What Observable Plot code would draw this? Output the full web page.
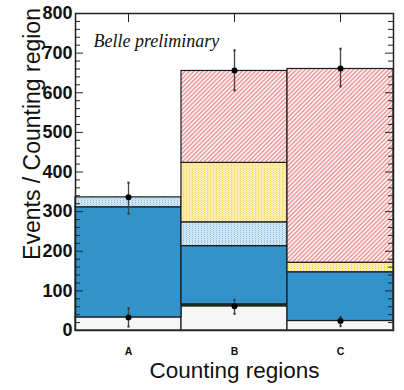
<!DOCTYPE html>
<html>
<head>
<meta charset="utf-8">
<script src="https://cdn.jsdelivr.net/npm/d3@7"></script>
<script src="https://cdn.jsdelivr.net/npm/@observablehq/plot@0.6"></script>
<style>
  html, body { margin: 0; padding: 0; background: #fff; }
  #chart { width: 404px; height: 390px; }
</style>
</head>
<body>
<div id="chart"></div>
<script>
// ---- Data ----
const regions = ["A", "B", "C"];
// background components, stacked bottom to top
const bkgOther     = [33, 61, 24];
const bkgGreen     = [0, 5, 0];
const bkgBlue      = [278, 147, 123];
const bkgLightBlue = [25, 60, 0];
const bkgYellow    = [0, 150, 24];
const bkgRed       = [0, 232, 489];
// observed events (upper points) with error bar ends
const obsValue = [336, 656, 661];
const obsLow   = [295, 606, 616];
const obsHigh  = [373, 707, 711];
// lower points
const lowValue = [33, 61, 24];
const lowLow   = [10, 42, 11];
const lowHigh  = [56, 77, 34];
const yTicksMajor = [0, 100, 200, 300, 400, 500, 600, 700, 800];

const W = 404, H = 390, mL = 75, mR = 11, mT = 13, mB = 60;
const frameW = W - mL - mR, frameH = H - mT - mB;

const layers = [
  {name: "other", values: bkgOther, fill: "#f6f6f6"},
  {name: "green", values: bkgGreen, fill: "#1f5a1f"},
  {name: "blue", values: bkgBlue, fill: "#3193c9"},
  {name: "lightblue", values: bkgLightBlue, fill: "url(#patBlue)"},
  {name: "yellow", values: bkgYellow, fill: "url(#patYellow)"},
  {name: "red", values: bkgRed, fill: "url(#patRed)"}
];

const rows = [];
regions.forEach((r, i) => {
  let cum = 0;
  layers.forEach(L => {
    const v = L.values[i];
    if (v > 0) rows.push({region: r, layer: L.name, y1: cum, y2: cum + v});
    cum += v;
  });
});

const obsRows = regions.map((r, i) => ({region: r, v: obsValue[i], lo: obsLow[i], hi: obsHigh[i]}));
const lowRows = regions.map((r, i) => ({region: r, v: lowValue[i], lo: lowLow[i], hi: lowHigh[i]}));
const minorTicks = d3.range(0, 801, 20).filter(d => d % 100 !== 0);

const pointMarks = (data) => [
  Plot.ruleX(data, {x: "region", y1: "lo", y2: "hi", stroke: "#444", strokeWidth: 1.3}),
  Plot.dot(data, {x: "region", y: "lo", r: 1.2, symbol: "square", fill: "#333", stroke: "none"}),
  Plot.dot(data, {x: "region", y: "hi", r: 1.2, symbol: "square", fill: "#333", stroke: "none"}),
  Plot.dot(data, {x: "region", y: "v", r: 3, fill: "#000", stroke: "none"})
];

const svg = Plot.plot({
  width: W, height: H,
  marginLeft: mL, marginRight: mR, marginTop: mT, marginBottom: mB,
  style: {fontFamily: "'Liberation Sans', Arial, Helvetica, sans-serif", background: "#fff", color: "#111"},
  x: {type: "band", domain: regions, padding: 0, axis: null},
  y: {domain: [0, 800], axis: null},
  marks: [
    ...layers.map(L => Plot.barY(rows.filter(d => d.layer === L.name), {
      x: "region", y1: "y1", y2: "y2", fill: L.fill, stroke: "#1c1c1c", strokeWidth: 1.2
    })),
    Plot.frame({stroke: "#222", strokeWidth: 1.5}),
    // inward ticks
    Plot.tickY(yTicksMajor, {y: d => d, insetRight: frameW - 8, stroke: "#222"}),
    Plot.tickY(minorTicks, {y: d => d, insetRight: frameW - 5, stroke: "#222"}),
    Plot.tickY(yTicksMajor, {y: d => d, insetLeft: frameW - 8, stroke: "#222"}),
    Plot.tickY(minorTicks, {y: d => d, insetLeft: frameW - 5, stroke: "#222"}),
    Plot.tickX(regions, {x: d => d, insetBottom: frameH - 9, stroke: "#222"}),
    ...pointMarks(obsRows),
    ...pointMarks(lowRows),
    Plot.axisY(yTicksMajor, {tickSize: 0, tickPadding: 3, fontSize: 18, fontWeight: "bold", label: null}),
    Plot.axisX({tickSize: 0, tickPadding: 17, fontSize: 10.5, fontWeight: "bold", label: null}),
    Plot.text(["Events / Counting region"], {
      frameAnchor: "left", dx: -43, dy: -38, rotate: -90, fontSize: 23, lineAnchor: "middle", textAnchor: "middle", fill: "#111"
    }),
    Plot.text(["Counting regions"], {
      frameAnchor: "bottom", dy: 40, fontSize: 22.5, lineAnchor: "middle", textAnchor: "middle", fill: "#111"
    }),
    Plot.text(["Belle preliminary"], {
      frameAnchor: "top-left", dx: 18, dy: 28, fontSize: 18, lineAnchor: "middle", textAnchor: "start",
      fontFamily: "'Liberation Serif', 'Times New Roman', serif", fontStyle: "italic", fill: "#111"
    })
  ]
});

// patterns
const defs = d3.select(svg).insert("defs", ":first-child");
const pr = defs.append("pattern").attr("id", "patRed").attr("patternUnits", "userSpaceOnUse")
  .attr("width", 3.1).attr("height", 3.1).attr("patternTransform", "rotate(45)");
pr.append("rect").attr("width", 3.1).attr("height", 3.1).attr("fill", "#fdf3f3");
pr.append("line").attr("x1", 1.55).attr("y1", 0).attr("x2", 1.55).attr("y2", 3.1)
  .attr("stroke", "#e67c7c").attr("stroke-width", 1.1);

const py = defs.append("pattern").attr("id", "patYellow").attr("patternUnits", "userSpaceOnUse")
  .attr("width", 3).attr("height", 2);
py.append("rect").attr("width", 3).attr("height", 2).attr("fill", "#fdefb4");
py.append("rect").attr("x", 0).attr("y", 0).attr("width", 1).attr("height", 1).attr("fill", "#f3d35c");
py.append("rect").attr("x", 1.5).attr("y", 1).attr("width", 1).attr("height", 1).attr("fill", "#f9e396");

const pb = defs.append("pattern").attr("id", "patBlue").attr("patternUnits", "userSpaceOnUse")
  .attr("width", 3).attr("height", 2);
pb.append("rect").attr("width", 3).attr("height", 2).attr("fill", "#d6e9f6");
pb.append("rect").attr("x", 0).attr("y", 0).attr("width", 1).attr("height", 1).attr("fill", "#86bce4");
pb.append("rect").attr("x", 1.5).attr("y", 1).attr("width", 1).attr("height", 1).attr("fill", "#b3d5ee");

document.getElementById("chart").appendChild(svg);
</script>
</body>
</html>
